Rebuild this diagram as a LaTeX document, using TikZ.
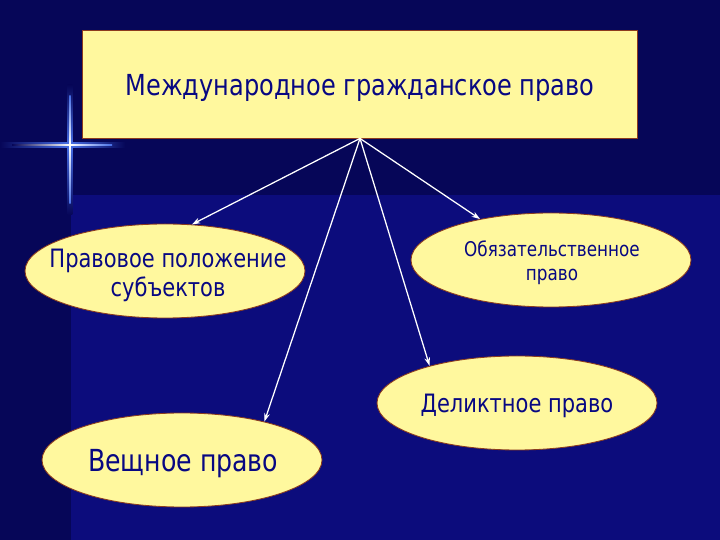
\documentclass[tikz,border=0pt]{standalone}
\usepackage{fontspec}
\setmainfont{DejaVu Sans}[FakeStretch=0.83]
\usetikzlibrary{shapes.geometric, arrows.meta}
\definecolor{bgdark}{RGB}{6,6,88}
\definecolor{bglight}{RGB}{12,12,124}
\definecolor{boxfill}{RGB}{255,248,158}
\definecolor{boxline}{RGB}{140,60,30}
\definecolor{txtblue}{RGB}{8,8,130}
\definecolor{flare}{RGB}{70,110,230}

\begin{document}
\begin{tikzpicture}[
  box/.style={draw=boxline, line width=0.6pt, fill=boxfill},
  oval/.style={box, ellipse, minimum width=7cm, minimum height=2.35cm},
  caption/.style={text=txtblue, align=center},
  link/.style={white, line width=0.9pt, -{Stealth[length=6pt, width=4pt]}}
]
\fill[bgdark] (0,0) rectangle (18,13.5);
\fill[bglight] (1.775,0) rectangle (18,8.625);

\shade[left color=bgdark, right color=flare] (0,9.81) rectangle (1.75,9.94);
\shade[left color=flare, right color=bgdark] (1.75,9.81) rectangle (3.125,9.94);
\shade[top color=bgdark, bottom color=flare] (1.69,11.375) rectangle (1.81,9.875);
\shade[top color=flare, bottom color=bgdark] (1.69,9.875) rectangle (1.81,8.125);
\shade[left color=bgdark, right color=white] (0.3,9.86) rectangle (1.75,9.89);
\shade[left color=white, right color=flare] (1.75,9.86) rectangle (2.8,9.89);
\shade[top color=flare, bottom color=white] (1.735,11.1) rectangle (1.765,9.875);
\shade[top color=white, bottom color=flare] (1.735,9.875) rectangle (1.765,8.4);

\node[box, minimum width=13.875cm, minimum height=2.7cm] (civil) at (9,11.4) {};
\node[caption, font=\fontsize{20.6}{25}\selectfont] (civil-t) at (9,11.29) {Международное гражданское право};

\node[oval] (status) at (4.125,6.725) {};
\node[caption, font=\fontsize{18}{20.5}\selectfont] (status-t) at (4.2,6.62) {Правовое положение\\субъектов};

\node[oval] (oblig) at (13.775,7.0) {};
\node[caption, font=\fontsize{14.4}{17.5}\selectfont] (oblig-t) at (13.8,6.93) {Обязательственное\\право};

\node[oval] (tort) at (12.925,3.425) {};
\node[caption, font=\fontsize{18}{21}\selectfont] (tort-t) at (12.925,3.36) {Деликтное право};

\node[oval] (property) at (4.55,2.0) {};
\node[caption, font=\fontsize{21.6}{25}\selectfont] (property-t) at (4.58,1.92) {Вещное право};

\draw[link] (civil.south) -- (status.60);
\draw[link] (civil.south) -- (oblig.150);
\draw[link] (civil.south) -- (tort.157);
\draw[link] (civil.south) -- (property.25);
\end{tikzpicture}
\end{document}
